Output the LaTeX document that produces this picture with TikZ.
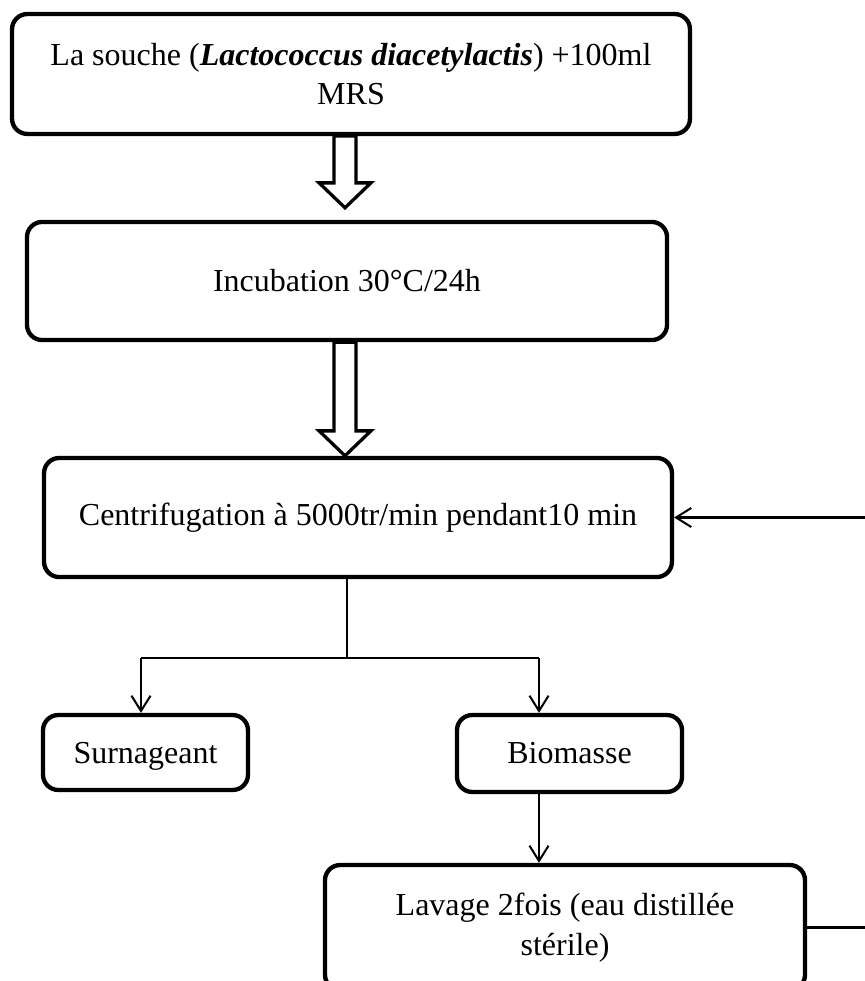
\documentclass[tikz,border=0pt]{standalone}
\usepackage{fontspec}
\setmainfont{Liberation Serif}
\usetikzlibrary{calc,arrows.meta}

% hollow block arrow pointing down from #1 to #2
\newcommand{\fatarrow}[2]{%
  \draw[fatarrow] let \p1=(#1), \p2=(#2) in
    (\x1-4.3pt,\y1) -- (\x1+4.3pt,\y1) -- (\x1+4.3pt,\y2+9.8pt)
    -- (\x1+10.2pt,\y2+9.8pt) -- (\x1,\y2) -- (\x1-10.2pt,\y2+9.8pt)
    -- (\x1-4.3pt,\y2+9.8pt) -- cycle;}

\begin{document}
\begin{tikzpicture}[x=0.3937pt,y=-0.3937pt,
  stepbox/.style={draw,line width=1.7pt,rounded corners=6pt,align=center,
    inner sep=2pt,font=\fontsize{12.6}{15.5}\selectfont},
  fatarrow/.style={draw,fill=white,line width=1.3pt,line join=miter},
  conn/.style={line width=0.8pt},
  tip/.style={-{Straight Barb[length=6pt,width=7.5pt]}}]
 \useasboundingbox (0,0) rectangle (864,981);

    % Boxes
    \node[stepbox,minimum width=266.9pt,minimum height=47.2pt] (souche) at (351,74)
        {La souche (\textbf{\textit{Lactococcus diacetylactis}}) +100ml\\MRS};
    \node[stepbox,minimum width=252pt,minimum height=46.5pt] (incub) at (347,281)
        {Incubation 30°C/24h};
    \node[stepbox,minimum width=247.2pt,minimum height=46.9pt] (centri) at (358,517.5)
        {Centrifugation à 5000tr/min pendant10 min};
    \node[stepbox,text depth=0pt,minimum width=80.7pt,minimum height=29.5pt] (surn) at (145.5,752.5)
        {Surnageant};
    \node[stepbox,minimum width=88.6pt,minimum height=30.3pt] (biom) at (569.5,753.5)
        {Biomasse};
    \node[stepbox,minimum width=189pt,minimum height=49.2pt] (lavage) at (565,927.5)
        {Lavage 2fois (eau distillée\\stérile)};

    % Helper points
    \coordinate (axis) at (345,0);
    \coordinate (split) at (347,658);
    \coordinate (lbranch) at (141,658);
    \coordinate (rbranch) at (539,658);
    \coordinate (loop) at (868,0);

    % Hollow arrows
    \fatarrow{souche.south -| axis}{$(incub.north -| axis)+(0,-12)$}
    \fatarrow{incub.south -| axis}{centri.north -| axis}

    % Split into two
    \draw[conn] (centri.south -| split) -- (split);
    \draw[conn] (lbranch) -- (rbranch);
    \draw[conn,tip] (lbranch) -- (lbranch |- surn.north);
    \draw[conn,tip] (rbranch) -- (rbranch |- biom.north);
    \draw[conn,tip] (rbranch |- biom.south) -- (rbranch |- lavage.north);

    % Back to centrifugation
    \draw[conn,tip] (lavage.east) -- (lavage.east -| loop) |- (centri.east);

\end{tikzpicture}
\end{document}
